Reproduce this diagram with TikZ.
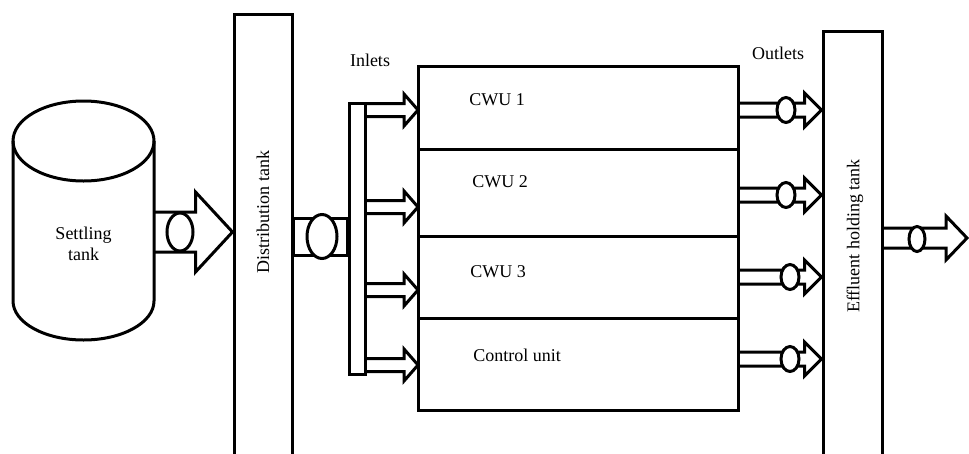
\documentclass[tikz,border=0pt]{standalone}
\usepackage{fontspec}
\setmainfont{Liberation Serif}
\usetikzlibrary{calc, shapes.geometric}

% wide pipe with an open end at #1 and an arrow head at #2
\newcommand\fatpipe[5]{%
  \draw[pipe] let \p1=(#1), \p2=(#2) in
    (\x1,\y1+#3) -- (\x2-#5,\y1+#3) -- (\x2-#5,\y1+#4) -- (\x2,\y1)
    -- (\x2-#5,\y1-#4) -- (\x2-#5,\y1-#3) -- (\x1,\y1-#3);}

\begin{document}
\begin{tikzpicture}[
      x=1pt, y=1pt,
      line width=3pt,
      every node/.style={font=\fontsize{18}{21}\selectfont},
      tank/.style={draw, rectangle, inner sep=0pt},
      unitbox/.style={draw, rectangle, minimum width=320pt, inner sep=0pt, outer sep=0pt},
      valve/.style={draw, ellipse, fill=white, inner sep=0pt},
      pipe/.style={draw, line join=miter}
    ]
      \useasboundingbox (0,0) rectangle (969,-453);

      % settling tank
      \draw (13,-141) -- (13,-301) arc (180:360:70.5pt and 39pt) -- (154,-141);
      \draw (83.5,-141) ellipse (70.5pt and 40pt);
      \node[align=center] (settletxt) at (83.5,-244) {Settling\\tank};
      \coordinate (settle) at (154,-232);

      % tanks and units
      \node[tank, minimum width=58pt, minimum height=456pt] (dist) at (263,-242) {};
      \node[rotate=90] (disttxt) at (263,-212) {Distribution tank};
      \node[tank, minimum width=16pt, minimum height=271pt] (mani) at (357,-238.5) {};
      \node[unitbox, minimum height=83pt, anchor=north west] (u1) at (418,-66) {};
      \node[unitbox, minimum height=87pt, anchor=north] (u2) at (u1.south) {};
      \node[unitbox, minimum height=82pt, anchor=north] (u3) at (u2.south) {};
      \node[unitbox, minimum height=92pt, anchor=north] (u4) at (u3.south) {};
      \node (t1) at (497,-100) {CWU 1};
      \node (t2) at (500,-182) {CWU 2};
      \node (t3) at (498,-272) {CWU 3};
      \node (t4) at (517,-355) {Control unit};
      \node[tank, minimum width=59pt, minimum height=439pt] (efl) at (852.5,-250.5) {};
      \node[rotate=90] (efltxt) at (855,-236) {Effluent holding tank};
      \node (inlets) at (370,-60) {Inlets};
      \node (outlets) at (778,-53) {Outlets};

      % pipes
      \fatpipe{settle}{dist.west |- settle}{20pt}{40pt}{37pt}
      \node[valve, minimum width=26pt, minimum height=38pt] (v1) at (180,-232) {};
      \draw[pipe] (dist.east |- 0,-218) rectangle (mani.west |- 0,-255);
      \node[valve, minimum width=30pt, minimum height=44pt] (v2) at (322,-236.5) {};
      \foreach \i/\y in {1/110, 2/207, 3/290, 4/365} {
        \coordinate (i\i) at (mani.east |- 0,-\y);
        \fatpipe{i\i}{u\i.west |- i\i}{6.5pt}{16pt}{14pt}
      }
      \foreach \i/\y/\vx in {1/110/786, 2/195/786, 3/277/790, 4/359/790} {
        \coordinate (o\i) at (u\i.east |- 0,-\y);
        \fatpipe{o\i}{efl.west |- o\i}{7pt}{17pt}{17pt}
        \node[valve, minimum width=18pt, minimum height=25pt] (ov\i) at (\vx,-\y) {};
      }
      \coordinate (out) at (efl.east |- 0,-238);
      \coordinate (outtip) at (967,-238);
      \fatpipe{out}{outtip}{10pt}{22pt}{21pt}
      \node[valve, minimum width=16pt, minimum height=25pt] (v3) at (917,-239) {};
    \end{tikzpicture}
\end{document}
